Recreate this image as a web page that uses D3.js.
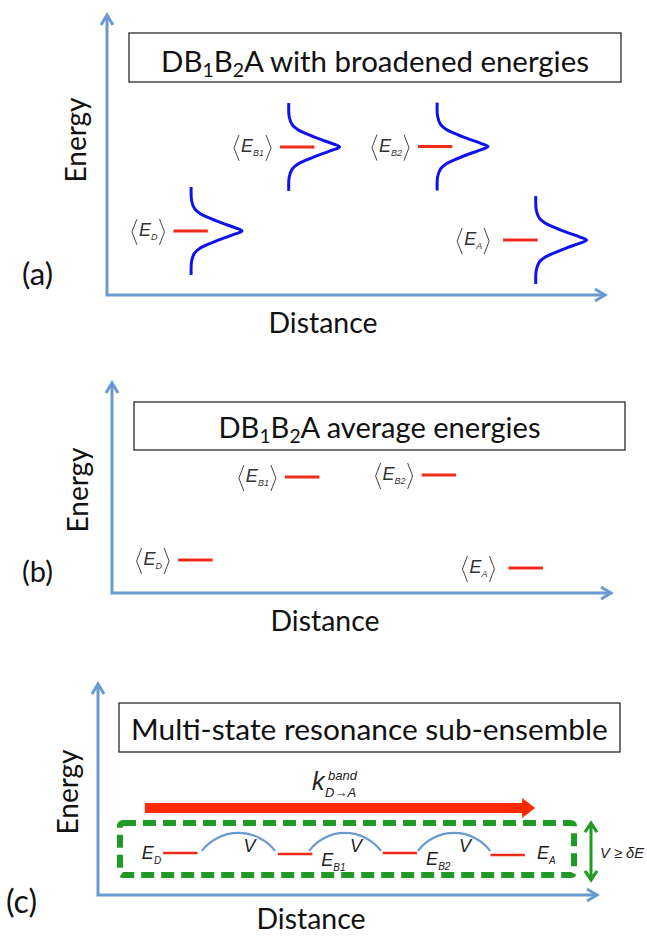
<!DOCTYPE html>
<html>
<head>
<meta charset="utf-8">
<script src="https://cdn.jsdelivr.net/npm/d3@7"></script>
<style>
  body { margin: 0; background: #fff; }
</style>
</head>
<body>
<div id="chart"></div>
<script>
// states along the chain
const states = ["D", "B1", "B2", "A"]

// (a) broadened energies -- every axis runs 0..100
const aLevelPos = [16.8, 38.2, 65.9, 83.0]
const aLevelEnergy = [22.9, 52.9, 53.0, 19.6]
const aBandPos = [16.9, 36.5, 66.3, 86.1]
const aBandHalf = 15.7     // energy half-span of each band
const aBandHeight = 10.2   // peak height, distance units
// band profile: offset (fraction of half-span) / height (fraction of peak)
const profileT = [-1, -0.68, -0.5, -0.39, -0.3, -0.18, -0.07, 0, 0.07, 0.18, 0.3, 0.39, 0.5, 0.68, 1]
const profileW = [0, 0.01, 0.07, 0.18, 0.34, 0.6, 0.87, 1, 0.87, 0.6, 0.34, 0.18, 0.07, 0.01, 0]

// (b) average energies
const bLevelPos = [16.7, 38.1, 65.5, 82.9]
const bLevelEnergy = [15.7, 55.2, 56.2, 11.9]

// (c) multi-state resonance
const cLevelPos = [16.5, 39.5, 60.5, 82.1]
const cLevelEnergy = [19.9, 19.4, 19.9, 19.0]
const couplingFrom = [20.8, 42.3, 64.1]
const couplingTo = [35.5, 56.7, 78.6]
const couplingEnergy = 20.9
const transferDist = [9.4, 87.6]
const transferEnergy = 41.2
const ensembleDist = [4.4, 95.4]
const ensembleEnergy = [9.5, 34.1]
const gapDist = 98.8

const LEVEL_W = 6.9   // level line length, distance units

const AXIS = "#6a9bd0", RED = "#ee2c1c", BLUE = "#0d12ee", GREEN = "#1f9a24"
const TITLE_FONT = "Lato, 'Open Sans', sans-serif"
const SYM_FONT = "'Liberation Sans', Arial, sans-serif"

const svg = d3.select("#chart").append("svg")
    .attr("width", 647)
    .attr("height", 936)
svg.append("rect").attr("width", 647).attr("height", 936).attr("fill", "#fff")

function fitText(sel, w) {
    const len = sel.node().getComputedTextLength()
    const fs = parseFloat(sel.attr("font-size"))
    sel.attr("font-size", fs * w / len)
}

// one panel: axes, labels, title box; returns scales
function panel(p) {
    const x = d3.scaleLinear().domain([0, 100]).range([p.x0, p.x1])
    const y = d3.scaleLinear().domain([0, 100]).range([p.y0, p.y1])
    const g = svg.append("g").attr("class", "panel")

    g.append("path")
        .attr("d", `M${x(0)},${y(100)} L${x(0)},${y(0)} L${x(100)},${y(0)}`)
        .attr("fill", "none").attr("stroke", AXIS).attr("stroke-width", 3)
    g.append("path")
        .attr("d", `M${x(0) - 6},${y(100) + 10} L${x(0)},${y(100)} L${x(0) + 6},${y(100) + 10}`)
        .attr("fill", "none").attr("stroke", AXIS).attr("stroke-width", 3)
    g.append("path")
        .attr("d", `M${x(100) - 10},${y(0) - 6} L${x(100)},${y(0)} L${x(100) - 10},${y(0) + 6}`)
        .attr("fill", "none").attr("stroke", AXIS).attr("stroke-width", 3)

    const en = g.append("text")
        .attr("transform", `translate(${p.eX},${p.eY}) rotate(-90)`)
        .attr("text-anchor", "middle")
        .attr("font-family", TITLE_FONT).attr("font-size", 26).attr("fill", "#111")
        .text("Energy")
    fitText(en, 85)

    const di = g.append("text")
        .attr("x", p.dX).attr("y", Math.min(y(0) + 38, 929))
        .attr("text-anchor", "middle")
        .attr("font-family", TITLE_FONT).attr("font-size", 26).attr("fill", "#111")
        .text("Distance")
    fitText(di, 109)

    const tag = g.append("text")
        .attr("x", p.tagX).attr("y", p.tagY)
        .attr("font-family", TITLE_FONT).attr("font-size", 26).attr("fill", "#111")
        .text(p.tag)
    fitText(tag, 31)

    // title box
    g.append("rect")
        .attr("x", p.box[0]).attr("y", p.box[1])
        .attr("width", p.box[2] - p.box[0]).attr("height", p.box[3] - p.box[1])
        .attr("fill", "#fff").attr("stroke", "#2a2a2a").attr("stroke-width", 1.3)
    const t = g.append("text")
        .attr("x", (p.box[0] + p.box[2]) / 2).attr("y", p.titleY)
        .attr("text-anchor", "middle")
        .attr("font-family", TITLE_FONT).attr("font-size", 28).attr("fill", "#111")
    p.title.forEach(d => {
        const s = t.append("tspan").text(d[0])
        if (d[1] === 1) s.attr("font-size", "0.66em").attr("dy", "0.26em")
        if (d[1] === -1) s.attr("dy", "-0.17em")
    })
    fitText(t, p.titleW)
    return { x, y, g }
}

// <E_X> label, right edge at xr, level height yl
function avgLabel(g, xr, yl, sub) {
    const lab = g.append("g").attr("class", "avg-label")
    const t = lab.append("text")
        .attr("x", 7).attr("y", 5)
        .attr("font-family", SYM_FONT).attr("font-style", "italic").attr("fill", "#333")
    t.append("tspan").attr("font-size", 18).text("E")
    t.append("tspan").attr("font-size", 9).attr("dy", 4).text(sub)
    const w = t.node().getComputedTextLength()
    lab.append("path").attr("d", "M5,-12 L0,1 L5,14")
    lab.append("path").attr("d", `M${w + 9},-12 L${w + 14},1 L${w + 9},14`)
    lab.selectAll("path").attr("fill", "none").attr("stroke", "#444").attr("stroke-width", 1)
    lab.attr("transform", `translate(${xr - (w + 14)},${yl})`)
}

function levels(P, pos, energy, width) {
    P.g.selectAll(null)
        .data(states)
        .enter()
        .append("line")
        .attr("class", "level")
        .attr("x1", (d, i) => P.x(pos[i] - LEVEL_W / 2))
        .attr("x2", (d, i) => P.x(pos[i] + LEVEL_W / 2))
        .attr("y1", (d, i) => P.y(energy[i]))
        .attr("y2", (d, i) => P.y(energy[i]))
        .attr("stroke", RED).attr("stroke-width", width)
}

// ---------------- (a)
const A = panel({
    x0: 107, x1: 605, y0: 295, y1: 15,
    eX: 86, eY: 140, dX: 323, tag: "(a)", tagX: 22, tagY: 285,
    box: [129, 33, 621, 82], titleY: 72, titleW: 428,
    title: [["DB", 0], ["1", 1], ["B", -1], ["2", 1], ["A with broadened energies", -1]]
})
const band = d3.line()
    .curve(d3.curveCatmullRom.alpha(0.5))
    .x(d => d[0]).y(d => d[1])
states.forEach((s, i) => {
    const pts = profileT.map((t, k) => [
        A.x(aBandPos[i] + aBandHeight * profileW[k]),
        A.y(aLevelEnergy[i] - t * aBandHalf)
    ])
    A.g.append("path")
        .attr("class", "band")
        .attr("d", band(pts))
        .attr("fill", "none").attr("stroke", BLUE).attr("stroke-width", 3)
})
levels(A, aLevelPos, aLevelEnergy, 3)
states.forEach((s, i) => avgLabel(A.g, A.x(aLevelPos[i] - LEVEL_W / 2) - (s === "A" ? 14 : 9), A.y(aLevelEnergy[i]), s))

// ---------------- (b)
const B = panel({
    x0: 112, x1: 611, y0: 593, y1: 383,
    eX: 88, eY: 490, dX: 325, tag: "(b)", tagX: 22, tagY: 582,
    box: [134, 402, 625, 450], titleY: 438, titleW: 322,
    title: [["DB", 0], ["1", 1], ["B", -1], ["2", 1], ["A average energies", -1]]
})
levels(B, bLevelPos, bLevelEnergy, 3)
states.forEach((s, i) => avgLabel(B.g, B.x(bLevelPos[i] - LEVEL_W / 2) - (s === "A" ? 14 : 9), B.y(bLevelEnergy[i]), s))

// ---------------- (c)
const C = panel({
    x0: 98, x1: 597, y0: 895, y1: 684,
    eX: 78, eY: 792, dX: 311, tag: "(c)", tagX: 6, tagY: 913,
    box: [119, 703, 620, 752], titleY: 740, titleW: 477,
    title: [["Multi-state resonance sub-ensemble", 0]]
})

// sub-ensemble frame
C.g.append("rect")
    .attr("x", C.x(ensembleDist[0])).attr("y", C.y(ensembleEnergy[1]))
    .attr("width", C.x(ensembleDist[1]) - C.x(ensembleDist[0]))
    .attr("height", C.y(ensembleEnergy[0]) - C.y(ensembleEnergy[1]))
    .attr("rx", 3)
    .attr("fill", "none").attr("stroke", GREEN).attr("stroke-width", 6)
    .attr("stroke-dasharray", "13,7")

// band transfer arrow
const ty = C.y(transferEnergy), tx0 = C.x(transferDist[0]), tx1 = C.x(transferDist[1])
C.g.append("path")
    .attr("d", `M${tx0},${ty - 5} L${tx1 - 13},${ty - 5} L${tx1 - 13},${ty - 10} L${tx1},${ty} ` +
               `L${tx1 - 13},${ty + 10} L${tx1 - 13},${ty + 5} L${tx0},${ty + 5} Z`)
    .attr("fill", "#ff2a00")
const kx = (tx0 + tx1) / 2 - 28
const kl = C.g.append("text")
    .attr("font-family", SYM_FONT).attr("font-style", "italic").attr("fill", "#222")
kl.append("tspan").attr("x", kx).attr("y", ty - 18).attr("font-size", 25).text("k")
kl.append("tspan").attr("x", kx + 16).attr("y", ty - 28).attr("font-size", 13).text("band")
kl.append("tspan").attr("x", kx + 13).attr("y", ty - 11).attr("font-size", 13).text("D\u2192A")

// couplings
C.g.selectAll(null)
    .data(couplingFrom)
    .enter()
    .append("path")
    .attr("class", "coupling")
    .attr("d", (d, i) => {
        const x1 = C.x(d), x2 = C.x(couplingTo[i]), yy = C.y(couplingEnergy)
        const c = x2 - x1, s = 18, r = (c * c / 4 + s * s) / (2 * s)
        return `M${x1},${yy} A${r},${r} 0 0 1 ${x2},${yy}`
    })
    .attr("fill", "none").attr("stroke", AXIS).attr("stroke-width", 2.2)
C.g.selectAll(null)
    .data(couplingFrom)
    .enter()
    .append("text")
    .attr("x", (d, i) => (C.x(d) + C.x(couplingTo[i])) / 2 + 11)
    .attr("y", C.y(couplingEnergy) + 1)
    .attr("text-anchor", "middle")
    .attr("font-family", SYM_FONT).attr("font-style", "italic").attr("font-size", 18).attr("fill", "#222")
    .text("V")

levels(C, cLevelPos, cLevelEnergy, 2.5)
// level names: [side, dx, dy]
const cLab = [["end", -2, 6], ["start", 9, 12], ["start", 9, 12], ["start", 12, 4]]
states.forEach((s, i) => {
    const side = cLab[i][0]
    const xx = side === "end" ? C.x(cLevelPos[i] - LEVEL_W / 2) : C.x(cLevelPos[i] + LEVEL_W / 2)
    const t = C.g.append("text")
        .attr("x", xx + cLab[i][1]).attr("y", C.y(cLevelEnergy[i]) + cLab[i][2])
        .attr("text-anchor", side)
        .attr("font-family", SYM_FONT).attr("font-style", "italic").attr("fill", "#222")
    t.append("tspan").attr("font-size", 18).text("E")
    t.append("tspan").attr("font-size", 10).attr("dy", 5).text(s)
})

// V >= dE gap arrow
const gx = C.x(gapDist), gy0 = C.y(ensembleEnergy[1]), gy1 = C.y(ensembleEnergy[0]) + 5
C.g.append("path")
    .attr("d", `M${gx},${gy0 + 1} L${gx},${gy1 - 1} M${gx - 6},${gy0 + 9} L${gx},${gy0} L${gx + 6},${gy0 + 9} ` +
               `M${gx - 6},${gy1 - 9} L${gx},${gy1} L${gx + 6},${gy1 - 9}`)
    .attr("fill", "none").attr("stroke", GREEN).attr("stroke-width", 3)
const gl = C.g.append("text")
    .attr("x", gx + 9).attr("y", (gy0 + gy1) / 2 + 6)
    .attr("font-family", SYM_FONT).attr("font-style", "italic").attr("font-size", 16).attr("fill", "#222")
    .text("V \u2265 \u03b4E")
fitText(gl, 44)
</script>
</body>
</html>
